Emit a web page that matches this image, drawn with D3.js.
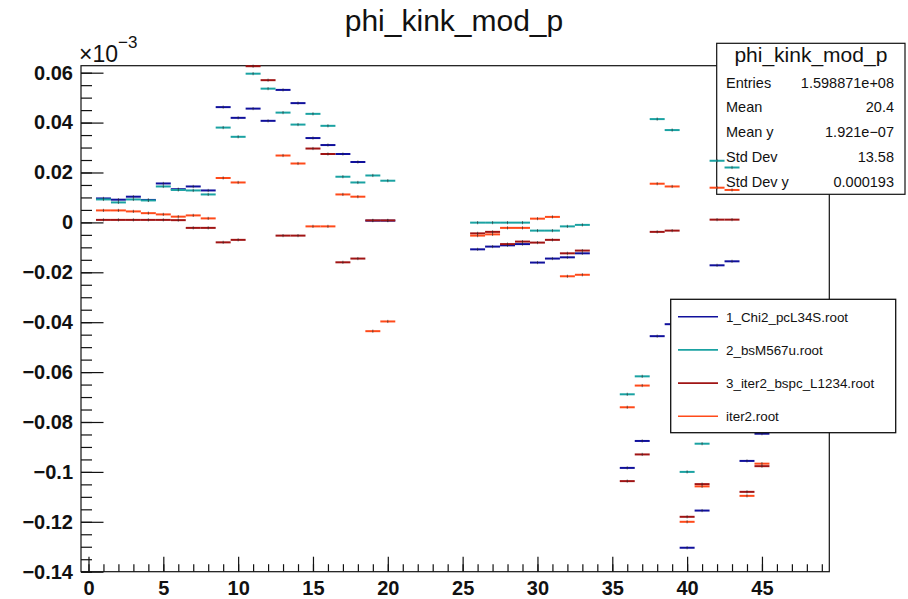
<!DOCTYPE html>
<html>
<head>
<meta charset="utf-8">
<script src="https://cdn.jsdelivr.net/npm/d3@7"></script>
<style>
  body { margin: 0; background: #fff; }
  svg { display: block; }
  text { font-family: "Liberation Sans", Arial, Helvetica, sans-serif; }
</style>
</head>
<body>
<svg id="chart" width="908" height="599"></svg>
<script>
// Profile bins (bin centres) that carry entries
const bins = [1, 2, 3, 4, 5, 6, 7, 8, 9, 10, 11, 12, 13, 14, 15, 16, 17, 18, 19, 20,
              26, 27, 28, 29, 30, 31, 32, 33,
              36, 37, 38, 39, 40, 41, 42, 43, 44, 45];

// Mean phi kink per bin, in units of 1e-3
const chi2PcL34S = [0.0096, 0.0091, 0.0103, 0.0090, 0.0156, 0.0133, 0.0144, 0.0128, 0.0462, 0.0419,
                    0.0456, 0.0407, 0.0531, 0.0478, 0.0338, 0.0310, 0.0274, 0.0242, 0.0007, 0.0007,
                    -0.0108, -0.0097, -0.0092, -0.0087, -0.0161, -0.0145, -0.0140, -0.0124,
                    -0.0984, -0.0876, -0.0456, -0.0408, -0.1304, -0.1155, -0.0172, -0.0156, -0.0956, -0.0847];
const bsM567u = [0.0092, 0.0080, 0.0092, 0.0088, 0.0144, 0.0130, 0.0128, 0.0112, 0.0380, 0.0343,
                 0.0596, 0.0536, 0.0440, 0.0392, 0.0435, 0.0387, 0.0183, 0.0160, 0.0188, 0.0167,
                 -0.0001, -0.0001, -0.0001, -0.0001, -0.0033, -0.0033, -0.0016, -0.0010,
                 -0.0689, -0.0617, 0.0414, 0.0370, -0.1000, -0.0887, 0.0247, 0.0220, -0.0700, -0.0620];
const iter2BspcL1234 = [0.0010, 0.0010, 0.0010, 0.0010, 0.0010, 0.0009, -0.0022, -0.0022, -0.0080, -0.0070,
                        0.0626, 0.0570, -0.0053, -0.0053, 0.0296, 0.0274, -0.0160, -0.0145, 0.0008, 0.0008,
                        -0.0044, -0.0038, -0.0087, -0.0077, -0.0081, -0.0070, -0.0124, -0.0113,
                        -0.1037, -0.0930, -0.0038, -0.0033, -0.1180, -0.1049, 0.0011, 0.0011, -0.1080, -0.0977];
const iter2 = [0.0048, 0.0048, 0.0044, 0.0037, 0.0032, 0.0023, 0.0028, 0.0016, 0.0178, 0.0160,
               0.0710, 0.0660, 0.0268, 0.0236, -0.0016, -0.0016, 0.0112, 0.0103, -0.0436, -0.0397,
               -0.0053, -0.0048, -0.0022, -0.0022, 0.0015, 0.0022, -0.0216, -0.0210,
               -0.0741, -0.0654, 0.0155, 0.0144, -0.1200, -0.1058, 0.0139, 0.0130, -0.1096, -0.0967];

const seriesNames = ["1_Chi2_pcL34S.root", "2_bsM567u.root", "3_iter2_bspc_L1234.root", "iter2.root"];
const seriesValues = [chi2PcL34S, bsM567u, iter2BspcL1234, iter2];
const seriesColors = ["#10109c", "#1aa2a2", "#a01414", "#ff4a1a"];

const xMajorTicks = [0, 5, 10, 15, 20, 25, 30, 35, 40, 45];
const yMajorTicks = [-0.14, -0.12, -0.1, -0.08, -0.06, -0.04, -0.02, 0, 0.02, 0.04, 0.06];

const histTitle = "phi_kink_mod_p";
const statsLabels = ["Entries", "Mean", "Mean y", "Std Dev", "Std Dev y"];
const statsValues = ["1.598871e+08", "20.4", "1.921e\u221207", "13.58", "0.000193"];

// ---- frame geometry ----
const frame = { left: 81, right: 829.3, top: 65.7, bottom: 571.7 };

const x = d3.scaleLinear().domain([-0.5, 49.5]).range([frame.left, frame.right]);
const y = d3.scaleLinear().domain([-0.14, 0.0628]).range([frame.bottom, frame.top]);

const svg = d3.select("#chart");

// title
svg.append("text")
  .attr("x", 454).attr("y", 31)
  .attr("text-anchor", "middle")
  .attr("font-size", 30)
  .attr("fill", "#111")
  .text(histTitle);

// frame
svg.append("rect")
  .attr("x", frame.left).attr("y", frame.top)
  .attr("width", frame.right - frame.left).attr("height", frame.bottom - frame.top)
  .attr("fill", "none").attr("stroke", "#111").attr("stroke-width", 1.2);

// y axis: major ticks with labels, minor ticks pointing into the frame
const fmt = d3.format("~g");
const yAxis = svg.append("g")
  .attr("transform", `translate(${frame.left},0)`)
  .call(d3.axisLeft(y).tickValues(yMajorTicks).tickSizeInner(-22.5).tickSizeOuter(0).tickPadding(8).tickFormat(fmt));
yAxis.select(".domain").remove();
yAxis.selectAll("text").attr("font-size", 20).attr("font-weight", "bold")
  .attr("font-family", "'Liberation Sans', Arial, sans-serif").attr("fill", "#111");
yAxis.selectAll("line").attr("stroke", "#111").attr("stroke-width", 1.2);

const yMinor = d3.range(-140, 61, 5).map(v => v / 1000);
const yAxisMinor = svg.append("g")
  .attr("transform", `translate(${frame.left},0)`)
  .call(d3.axisLeft(y).tickValues(yMinor).tickSizeInner(-11).tickSizeOuter(0).tickFormat(""));
yAxisMinor.select(".domain").remove();
yAxisMinor.selectAll("line").attr("stroke", "#111").attr("stroke-width", 1.2);

// x axis
const xAxis = svg.append("g")
  .attr("transform", `translate(0,${frame.bottom})`)
  .call(d3.axisBottom(x).tickValues(xMajorTicks).tickSizeInner(-15).tickSizeOuter(0).tickPadding(9).tickFormat(d3.format("d")));
xAxis.select(".domain").remove();
xAxis.selectAll("text").attr("font-size", 20).attr("font-weight", "bold")
  .attr("font-family", "'Liberation Sans', Arial, sans-serif").attr("fill", "#111");
xAxis.selectAll("line").attr("stroke", "#111").attr("stroke-width", 1.2);

const xMinor = d3.range(0, 50, 1);
const xAxisMinor = svg.append("g")
  .attr("transform", `translate(0,${frame.bottom})`)
  .call(d3.axisBottom(x).tickValues(xMinor).tickSizeInner(-7.5).tickSizeOuter(0).tickFormat(""));
xAxisMinor.select(".domain").remove();
xAxisMinor.selectAll("line").attr("stroke", "#111").attr("stroke-width", 1.2);

// axis exponent label
const expo = svg.append("text").attr("x", 79).attr("y", 62).attr("font-size", 23).attr("fill", "#111");
expo.append("tspan").text("\u00d710");
expo.append("tspan").attr("dy", -14).attr("font-size", 17).text("\u22123");

const [yLo, yHi] = y.domain();

function drawSeries(k) {
  const g = svg.append("g");
  const pts = bins.map((b, i) => ({ b, v: seriesValues[k][i] }))
    .filter(d => d.v >= yLo && d.v <= yHi);
  g.selectAll("line.bar").data(pts).join("line")
    .attr("class", "bar")
    .attr("x1", d => x(d.b - 0.5)).attr("x2", d => x(d.b + 0.5))
    .attr("y1", d => y(d.v)).attr("y2", d => y(d.v))
    .attr("stroke", seriesColors[k]).attr("stroke-width", 2);
  g.selectAll("line.mk").data(pts).join("line")
    .attr("class", "mk")
    .attr("x1", d => x(d.b)).attr("x2", d => x(d.b))
    .attr("y1", d => y(d.v) - 1.6).attr("y2", d => y(d.v) + 1.6)
    .attr("stroke", "#222").attr("stroke-width", 0.9).attr("opacity", 0.65);
}

// first histogram, then its statistics box, then the overlays
drawSeries(0);

const stats = svg.append("g");
const sb = { x: 716.7, y: 43.3, w: 188.3, h: 151 };
stats.append("rect").attr("x", sb.x).attr("y", sb.y).attr("width", sb.w).attr("height", sb.h)
  .attr("fill", "#fff").attr("stroke", "#111").attr("stroke-width", 1.2);
stats.append("text").attr("x", sb.x + sb.w / 2).attr("y", 62).attr("text-anchor", "middle")
  .attr("font-size", 21).attr("fill", "#111").text(histTitle);
statsLabels.forEach((lab, i) => {
  const by = 87.5 + i * 24.8;
  stats.append("text").attr("x", 726).attr("y", by).attr("font-size", 14.5).attr("fill", "#111").text(lab);
  stats.append("text").attr("x", 894).attr("y", by).attr("text-anchor", "end")
    .attr("font-size", 14.5).attr("fill", "#111").text(statsValues[i]);
});

drawSeries(1);
drawSeries(2);
drawSeries(3);

// legend
const lg = svg.append("g");
const lb = { x: 670.7, y: 299.3, w: 225, h: 133.4 };
lg.append("rect").attr("x", lb.x).attr("y", lb.y).attr("width", lb.w).attr("height", lb.h)
  .attr("fill", "#fff").attr("stroke", "#111").attr("stroke-width", 1.3);
seriesNames.forEach((name, i) => {
  const ly = 316.7 + i * 33.2;
  lg.append("line").attr("x1", 678).attr("x2", 718).attr("y1", ly).attr("y2", ly)
    .attr("stroke", seriesColors[i]).attr("stroke-width", 1.6);
  lg.append("text").attr("x", 726).attr("y", ly + 5).attr("font-size", 13.4).attr("fill", "#111").text(name);
});
</script>
</body>
</html>
